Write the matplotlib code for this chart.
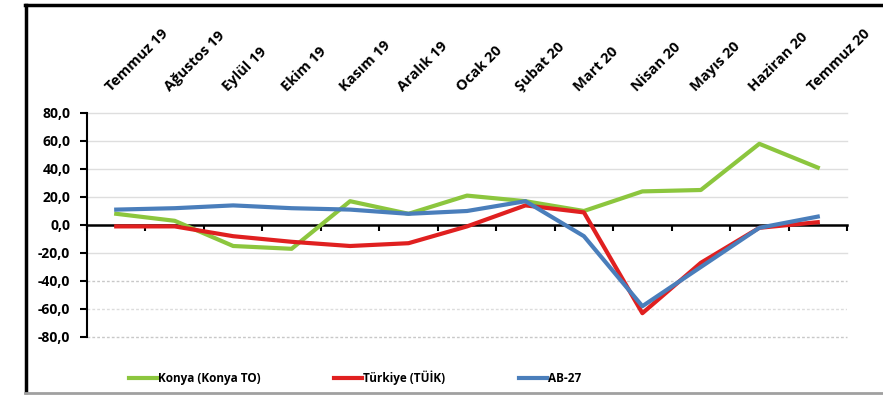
import matplotlib
matplotlib.use('Agg')

import matplotlib.pyplot as plt
import matplotlib.transforms as mtransforms
from matplotlib.lines import Line2D
import numpy as np

plt.rcParams['font.family'] = ['Open Sans', 'DejaVu Sans']

months = ['Temmuz 19', 'Ağustos 19', 'Eylül 19', 'Ekim 19', 'Kasım 19', 'Aralık 19',
          'Ocak 20', 'Şubat 20', 'Mart 20', 'Nisan 20', 'Mayıs 20', 'Haziran 20', 'Temmuz 20']
konya = [8, 3, -15, -17, 17, 8, 21, 17, 10, 24, 25, 58, 41]
turkiye = [-1, -1, -8, -12, -15, -13, -1, 14, 9, -63, -27, -2, 2]
ab27 = [11, 12, 14, 12, 11, 8, 10, 17, -8, -58, -30, -2, 6]

yticks = [-80, -60, -40, -20, 0, 20, 40, 60, 80]

green = '#8cc63e'
red = '#e02020'
blue = '#4a7ebb'

fig = plt.figure(figsize=(8.83, 3.97), dpi=100)
ax = fig.add_axes([87 / 883, 1 - 337 / 397, (847 - 87) / 883, (337 - 113) / 397])

x = np.arange(len(months))

# gridlines (the lower ones are dotted in the original)
for yv in yticks:
    if yv == 0:
        continue
    if yv in (-40, -80):
        ax.axhline(yv, color='#c8c8c8', lw=1.0, ls=(0, (2, 1.5)), zorder=1, clip_on=False)
    elif yv == -60:
        ax.axhline(yv, color='#dcdcdc', lw=1.0, ls=(0, (2, 1.5)), zorder=1)
    else:
        ax.axhline(yv, color='#dedede', lw=1.0, zorder=1, clip_on=False)

ax.plot(x, konya, color=green, lw=3.0, zorder=3)
ax.plot(x, turkiye, color=red, lw=3.0, zorder=4)
ax.plot(x, ab27, color=blue, lw=3.0, zorder=5)

ax.set_xlim(-0.5, len(months) - 0.5)
ax.set_ylim(-80, 80)

# category axis sits on zero, ticks between categories
ax.spines['bottom'].set_position(('data', 0))
ax.spines['bottom'].set_linewidth(1.8)
ax.spines['bottom'].set_zorder(2)
ax.spines['top'].set_visible(False)
ax.spines['right'].set_visible(False)
ax.spines['left'].set_linewidth(1.5)
ax.set_xticks(np.arange(len(months) + 1) - 0.5)
ax.tick_params(axis='x', direction='out', length=4, width=1.5, labelbottom=False)

ax.set_yticks(yticks)
ax.set_yticklabels([f'{v:.1f}'.replace('.', ',') for v in yticks],
                   fontsize=10, fontweight='bold')
ax.tick_params(axis='y', direction='out', length=5, width=1.5, pad=7)

# month labels above the plot
trans = mtransforms.blended_transform_factory(ax.transData, ax.transAxes)
for i, m in enumerate(months):
    ax.text(i - 0.05, 1.085, m, transform=trans, rotation=45, ha='left', va='bottom',
            rotation_mode='anchor', fontsize=10.5, fontweight='bold')

# legend
handles = [Line2D([], [], color=green, lw=3.0),
           Line2D([], [], color=red, lw=3.0),
           Line2D([], [], color=blue, lw=3.0)]
fig.legend(handles, ['Konya (Konya TO)', 'Türkiye (TÜİK)', 'AB-27'],
           loc='center', bbox_to_anchor=(355 / 883, 1 - 378 / 397), ncol=3,
           frameon=False, handlelength=2.4, handletextpad=0.1, columnspacing=6.2,
           prop={'size': 8.5, 'weight': 'bold'})

# outer frame
fig.add_artist(Line2D([26 / 883, 26 / 883], [5 / 397, 392 / 397], color='black', lw=2.5,
                      transform=fig.transFigure))
fig.add_artist(Line2D([25 / 883, 1], [392 / 397, 392 / 397], color='black', lw=2.5,
                      transform=fig.transFigure))
fig.add_artist(Line2D([25 / 883, 1], [4 / 397, 4 / 397], color='#a0a0a0', lw=2,
                      transform=fig.transFigure))

fig.savefig('out.png', dpi=100)
